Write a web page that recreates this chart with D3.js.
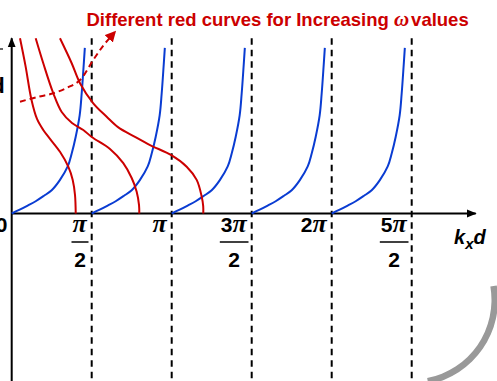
<!DOCTYPE html>
<html>
<head>
<meta charset="utf-8">
<script src="https://cdn.jsdelivr.net/npm/d3@7"></script>
<style>
  html, body { margin: 0; padding: 0; background: #fff; }
  svg { display: block; }
</style>
</head>
<body>
<div id="chart"></div>
<script>
const PI = Math.PI;

// Starting points (k_x d) of the blue tangent-like branches
const blueBranchStarts = [0, PI / 2, PI, 3 * PI / 2, 2 * PI];
// Shape of one blue branch: [offset from branch start, value]
const blueBranch = [
  [0, 0], [0.157, 0.16], [0.314, 0.33], [0.471, 0.51], [0.628, 0.73],
  [0.785, 0.97], [0.942, 1.38], [1.10, 1.96], [1.178, 2.5], [1.257, 3.2],
  [1.335, 4.1], [1.374, 5.0], [1.414, 6.2], [1.436, 6.9]
];

// Red curves, one per omega value: [k_x d, value]
const redCurve1 = [
  [0.163, 7.30], [0.271, 6.15], [0.389, 4.73], [0.497, 3.94], [0.620, 3.48],
  [0.752, 3.11], [0.948, 2.57], [1.111, 1.95], [1.198, 1.40], [1.243, 0.77],
  [1.257, 0]
];
const redCurve2 = [
  [0.471, 7.30], [0.620, 6.26], [0.817, 5.01], [0.982, 4.23], [1.184, 3.77],
  [1.406, 3.48], [1.571, 3.19], [1.930, 2.69], [2.191, 2.10], [2.356, 1.48],
  [2.454, 0.91], [2.500, 0.35], [2.505, 0]
];
const redCurve3 = [
  [0.948, 7.30], [1.178, 6.26], [1.341, 5.43], [1.602, 4.59], [1.865, 4.03],
  [2.087, 3.60], [2.421, 3.19], [2.716, 2.85], [3.142, 2.42], [3.436, 1.95],
  [3.632, 1.40], [3.731, 0.70], [3.760, 0.31], [3.762, 0]
];
const redCurves = [redCurve1, redCurve2, redCurve3];

// Dashed arrow across the red curves (direction of increasing omega)
const omegaArrow = [[0.163, 4.66], [0.50, 4.85], [0.817, 5.01], [1.10, 5.25], [1.341, 5.56], [1.602, 6.40], [1.80, 7.00], [2.02, 7.55]];

// Asymptote positions and tick labels
const asymptotes = [PI / 2, PI, 3 * PI / 2, 2 * PI, 5 * PI / 2];
const tickLabels = [
  { v: PI / 2,     num: ["", "π"],  den: "2" },
  { v: PI,         num: ["", "π"],  den: null },
  { v: 3 * PI / 2, num: ["3", "π"], den: "2" },
  { v: 2 * PI,     num: ["2", "π"], den: null },
  { v: 5 * PI / 2, num: ["5", "π"], den: "2" }
];

const titleParts = ["Different red curves for Increasing ", "ω", "values"];

const W = 497, H = 381;
const RED = "#cc0000", BLUE = "#0a3cd2";
const SANS = "'Liberation Sans', Arial, sans-serif";
const SERIF = "'Liberation Serif', 'Times New Roman', serif";

const svg = d3.select("#chart").append("svg")
  .attr("width", W).attr("height", H)
  .attr("viewBox", `0 0 ${W} ${H}`);

const x = d3.scaleLinear().domain([0, 2.9 * PI]).range([11.7, 475.7]);
const y = d3.scaleLinear().domain([-7, 7.3]).range([381.5, 38.3]);

// Grey rounded frame corner at the lower right
const arc = d3.arc().innerRadius(79.5).outerRadius(86)
  .startAngle(1.4).endAngle(2.95);
svg.append("path")
  .attr("d", arc())
  .attr("transform", "translate(412,300)")
  .attr("fill", "#999");

// Dashed asymptotes
svg.append("g").selectAll("line").data(asymptotes).join("line")
  .attr("x1", d => x(d)).attr("x2", d => x(d))
  .attr("y1", y(7.3)).attr("y2", H)
  .attr("stroke", "#000").attr("stroke-width", 2)
  .attr("stroke-dasharray", "6.5,5");

// Axes with arrowheads
const defs = svg.append("defs");
defs.append("marker").attr("id", "arrowBlack")
  .attr("viewBox", "0 0 10 10").attr("refX", 9).attr("refY", 5)
  .attr("markerWidth", 5).attr("markerHeight", 5)
  .attr("markerUnits", "strokeWidth")
  .attr("orient", "auto")
  .append("path").attr("d", "M0,1 L10,5 L0,9 Z").attr("fill", "#000");
defs.append("marker").attr("id", "arrowRed")
  .attr("viewBox", "0 0 10 10").attr("refX", 8).attr("refY", 5)
  .attr("markerWidth", 5.5).attr("markerHeight", 5.5)
  .attr("markerUnits", "strokeWidth")
  .attr("orient", "auto")
  .append("path").attr("d", "M0,0 L10,5 L0,10 Z").attr("fill", RED);

svg.append("line")
  .attr("x1", x(0)).attr("x2", x(2.9 * PI))
  .attr("y1", y(0)).attr("y2", y(0))
  .attr("stroke", "#000").attr("stroke-width", 2)
  .attr("marker-end", "url(#arrowBlack)");
svg.append("line")
  .attr("x1", x(0)).attr("x2", x(0))
  .attr("y1", H + 2).attr("y2", y(7.3))
  .attr("stroke", "#000").attr("stroke-width", 2)
  .attr("marker-end", "url(#arrowBlack)");

// Curves
const line = d3.line()
  .x(d => x(d[0])).y(d => y(d[1]))
  .curve(d3.curveCatmullRom.alpha(0.5));

svg.append("g").selectAll("path").data(blueBranchStarts).join("path")
  .attr("d", s => line(blueBranch.map(p => [s + p[0], p[1]])))
  .attr("fill", "none").attr("stroke", BLUE).attr("stroke-width", 2);

svg.append("g").selectAll("path").data(redCurves).join("path")
  .attr("d", d => line(d))
  .attr("fill", "none").attr("stroke", RED).attr("stroke-width", 2);

svg.append("path")
  .attr("d", line(omegaArrow))
  .attr("fill", "none").attr("stroke", RED).attr("stroke-width", 2)
  .attr("stroke-dasharray", "6,4")
  .attr("marker-end", "url(#arrowRed)");

// Title
const title = svg.append("text")
  .attr("x", 86.5).attr("y", 25.5)
  .attr("font-family", SANS).attr("font-weight", "bold")
  .attr("font-size", 18.5).attr("fill", RED);
title.append("tspan").text(titleParts[0]);
title.append("tspan").attr("font-family", SERIF).attr("font-style", "italic")
  .attr("font-size", 21).text(titleParts[1]);
title.append("tspan").attr("dx", 2).text(titleParts[2]);

// Tick labels
svg.append("text")
  .attr("x", 7.5).attr("y", 232)
  .attr("text-anchor", "end")
  .attr("font-family", SANS).attr("font-weight", "bold").attr("font-size", 21)
  .text("0");

tickLabels.forEach(t => {
  const g = svg.append("g");
  const num = g.append("text")
    .attr("x", x(t.v) - 5).attr("y", 232)
    .attr("text-anchor", "end")
    .attr("font-weight", "bold").attr("font-size", 21);
  num.append("tspan").attr("font-family", SANS).text(t.num[0]);
  num.append("tspan").attr("font-family", SERIF).attr("font-style", "italic")
    .attr("font-size", 26).text(t.num[1]);
  if (t.den) {
    const bb = num.node().getBBox();
    const x0 = bb.x - 1, x1 = bb.x + bb.width + 1;
    g.append("line")
      .attr("x1", x0).attr("x2", x1).attr("y1", 242).attr("y2", 242)
      .attr("stroke", "#000").attr("stroke-width", 1.5);
    g.append("text")
      .attr("x", (x0 + x1) / 2).attr("y", 267)
      .attr("text-anchor", "middle")
      .attr("font-family", SANS).attr("font-weight", "bold").attr("font-size", 21)
      .text(t.den);
  }
});

// Horizontal axis label k_x d
const axisLabel = svg.append("text")
  .attr("x", 454).attr("y", 243.5)
  .attr("font-family", SANS).attr("font-weight", "bold")
  .attr("font-style", "italic").attr("font-size", 20);
axisLabel.append("tspan").text("k");
axisLabel.append("tspan").attr("font-size", 15).attr("dy", 5).text("x");
axisLabel.append("tspan").attr("dy", -5).text("d");

// Vertical axis label, extending past the left edge
const vLabel = svg.append("g");
vLabel.append("line")
  .attr("x1", -20).attr("x2", 3).attr("y1", 49).attr("y2", 49)
  .attr("stroke", "#000").attr("stroke-width", 1.2);
vLabel.append("text")
  .attr("x", 4.8).attr("y", 92.7)
  .attr("text-anchor", "end")
  .attr("font-family", SANS).attr("font-weight", "bold").attr("font-size", 22)
  .text("d");
</script>
</body>
</html>
